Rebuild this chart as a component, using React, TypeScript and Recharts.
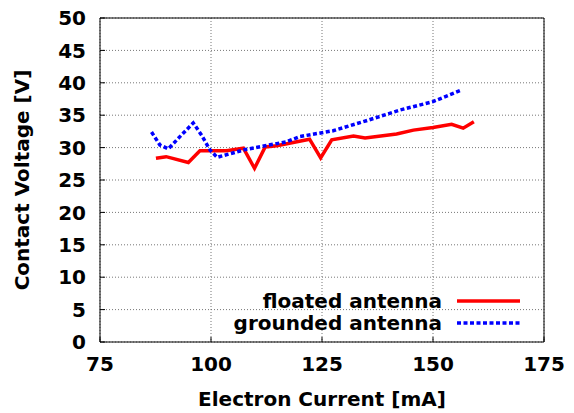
import { CartesianGrid, Line, LineChart, ReferenceLine, XAxis, YAxis } from 'recharts'

const floatedCurrent = [87.6, 89.9, 94.9, 97.5, 100.1, 103.5, 107.3, 109.8, 112.2, 114.8, 118.5, 122.2, 124.7, 127.2, 132.1, 134.7, 141.8, 145.6, 150, 154.2, 156.8, 159.2]
const floatedVoltage = [28.35, 28.6, 27.7, 29.5, 29.5, 29.5, 29.9, 26.8, 30.1, 30.3, 30.8, 31.3, 28.4, 31.2, 31.8, 31.5, 32.1, 32.7, 33.1, 33.6, 33.0, 34.0]

const groundedCurrent = [86.6, 88.5, 90.4, 93, 96, 97.9, 99.8, 101.4, 107.7, 117, 120, 127.5, 135, 142.6, 150, 156.5]
const groundedVoltage = [32.4, 30.4, 29.8, 31.7, 33.8, 31.9, 29.6, 28.5, 29.7, 30.9, 31.7, 32.6, 34.15, 35.8, 37.1, 38.9]

const xTicks = [75, 100, 125, 150, 175]
const yTicks = [0, 5, 10, 15, 20, 25, 30, 35, 40, 45, 50]

const floated = floatedCurrent.map((x, i) => ({ x, v: floatedVoltage[i] }))
const grounded = groundedCurrent.map((x, i) => ({ x, v: groundedVoltage[i] }))

const series = [
  { name: 'floated antenna', data: floated, color: '#ff0000', dash: undefined as string | undefined },
  { name: 'grounded antenna', data: grounded, color: '#0000ff', dash: '4 2.5' },
]

const font = '"DejaVu Sans", Verdana, sans-serif'
const tickStyle = { fill: '#000', fontSize: 20, fontWeight: 700, fontFamily: font }

export default function App() {
  return (
    <div style={{ position: 'absolute', left: 0, top: 0, width: 574, height: 413, background: '#fff' }}>
      <LineChart width={574} height={413} margin={{ top: 18, right: 30, bottom: 0, left: 0 }}>
        <CartesianGrid stroke="#777" strokeDasharray="1 2" />
        <XAxis
          type="number"
          dataKey="x"
          domain={[75, 175]}
          ticks={xTicks}
          allowDuplicatedCategory={false}
          tick={tickStyle}
          tickLine={{ stroke: '#000' }}
          tickSize={-5}
          tickMargin={20}
          axisLine={{ stroke: '#000' }}
          height={71}
          label={{ value: 'Electron Current [mA]', position: 'insideBottom', offset: 7, style: tickStyle }}
        />
        <YAxis
          type="number"
          dataKey="v"
          domain={[0, 50]}
          ticks={yTicks}
          tick={tickStyle}
          tickLine={{ stroke: '#000' }}
          tickSize={-5}
          tickMargin={19}
          axisLine={{ stroke: '#000' }}
          width={100}
          label={{ value: 'Contact Voltage [V]', angle: -90, position: 'insideLeft', offset: 22, style: { ...tickStyle, textAnchor: 'middle' } }}
        />
        <ReferenceLine x={175} stroke="#000" />
        <ReferenceLine y={50} stroke="#000" />
        {series.map((s) => (
          <Line
            key={s.name}
            data={s.data}
            dataKey="v"
            name={s.name}
            type="linear"
            stroke={s.color}
            strokeWidth={3.5}
            strokeDasharray={s.dash}
            dot={false}
            isAnimationActive={false}
          />
        ))}
      </LineChart>
      <div style={{ position: 'absolute', right: 574 - 520, top: 290, fontFamily: font, fontSize: 20, fontWeight: 700, lineHeight: '22px' }}>
        {series.map((s) => (
          <div key={s.name} style={{ display: 'flex', alignItems: 'center', justifyContent: 'flex-end' }}>
            <span>{s.name}</span>
            <svg width={78} height={22}>
              <line x1={15} x2={78} y1={11} y2={11} stroke={s.color} strokeWidth={3.5} strokeDasharray={s.dash} />
            </svg>
          </div>
        ))}
      </div>
    </div>
  )
}
